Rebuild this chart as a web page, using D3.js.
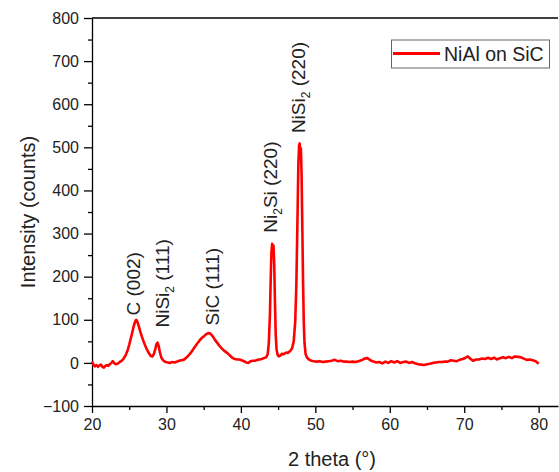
<!DOCTYPE html>
<html>
<head>
<meta charset="utf-8">
<script src="https://cdn.jsdelivr.net/npm/d3@7"></script>
<style>
  body { margin: 0; background: #fff; }
  svg { font-family: Arial, "Liberation Sans", sans-serif; }
  .axis path, .axis line { stroke: #000; stroke-width: 1.3; }
  .axis text { font-size: 16px; fill: #222; font-family: Arial, "Liberation Sans", sans-serif; }
</style>
</head>
<body>
<svg id="vis-svg" width="559" height="472"></svg>
<script>

// Data
var twoTheta = [20.0,20.2,20.4,20.6,20.8,21.0,21.2,21.4,21.6,21.8,22.0,22.2,22.4,22.6,22.8,23.0,23.2,23.4,23.6,23.8,
  24.0,24.2,24.4,24.6,24.8,25.0,25.2,25.4,25.6,25.8,25.95,26.1,26.3,26.5,26.7,26.9,27.1,27.3,27.5,27.7,27.9,
  28.1,28.3,28.5,28.65,28.8,28.95,29.1,29.3,29.5,29.7,29.9,30.2,30.5,30.8,31.1,31.4,31.7,32.0,32.3,32.6,32.9,
  33.2,33.5,33.8,34.1,34.4,34.7,35.0,35.3,35.6,35.9,36.2,36.5,36.8,37.1,37.4,37.7,38.0,38.3,38.6,38.9,39.2,
  39.5,39.8,40.1,40.4,40.7,41.0,41.3,41.6,41.9,42.2,42.5,42.8,43.1,43.4,43.6,43.75,43.9,44.0,44.1,44.2,44.3,
  44.38,44.48,44.58,44.68,44.8,44.95,45.1,45.3,45.5,45.7,45.9,46.1,46.3,46.5,46.7,46.9,47.1,47.3,47.45,47.6,
  47.72,47.82,47.9,47.98,48.06,48.15,48.25,48.35,48.45,48.55,48.7,48.9,49.2,49.5,49.8,50.2,50.6,51.0,51.4,
  51.8,52.2,52.6,53.0,53.4,53.8,54.2,54.6,55.0,55.4,55.8,56.2,56.6,57.0,57.4,57.8,58.2,58.6,59.0,59.4,59.8,
  60.2,60.6,61.0,61.4,61.8,62.2,62.6,63.0,63.4,63.8,64.2,64.6,65.0,65.4,65.8,66.2,66.6,67.0,67.4,67.8,68.2,
  68.6,69.0,69.4,69.8,70.2,70.5,70.8,71.2,71.6,72.0,72.4,72.8,73.2,73.6,74.0,74.4,74.8,75.2,75.6,76.0,76.4,
  76.8,77.2,77.6,78.0,78.4,78.8,79.2,79.6,80.0];

var intensity = [3,-4,-8,-5,-9,-6,-4,-9,-11,-7,-5,-7,-3,0,4,-1,-3,-2,0,3,
  5,9,14,21,30,42,56,70,85,96,100,95,84,72,61,51,42,34,27,21,16,
  15,20,32,43,47,40,26,13,7,4,2,1,0,2,1,3,5,6,7,11,16,
  22,29,37,44,51,57,61,66,69,68,62,54,47,40,34,29,25,21,16,11,9,
  8,8,6,4,1,0,4,5,5,7,8,9,11,13,20,45,110,190,255,276,262,
  272,230,140,65,30,18,15,17,21,20,22,24,23,26,29,35,50,95,180,330,
  460,505,509,485,498,440,320,190,95,45,20,12,7,5,4,3,4,2,3,
  4,5,7,4,5,3,3,2,3,2,4,6,10,11,6,3,1,2,-1,3,0,
  4,1,4,0,2,3,0,2,-1,-3,-4,-5,-3,-2,0,1,2,2,3,3,6,
  5,4,7,9,12,15,10,5,8,8,10,9,12,9,12,8,11,13,11,14,11,
  15,14,13,10,7,8,6,4,-2];

// Peak labels ('|' marks the subscript), 2theta of label, intensity where label starts
var peakNames = ['C (002)', 'NiSi|2| (111)', 'SiC (111)', 'Ni|2|Si (220)', 'NiSi|2| (220)'];
var peakPos = [26.4, 30.3, 37.0, 44.8, 48.6];
var peakBase = [110, 82, 87, 302, 533];

var xTicks = [20, 30, 40, 50, 60, 70, 80];
var yTicks = [-100, 0, 100, 200, 300, 400, 500, 600, 700, 800];
var seriesName = 'NiAl on SiC';

function drawChart() {
var data = twoTheta.map(function(t, i) { return {x: t, y: intensity[i]}; });

var svg = d3.select('#vis-svg');
var plotLeft = 92, plotRight = 558, plotTop = 18, plotBottom = 406;

var xScale = d3.scaleLinear().domain([20, 82.6]).range([plotLeft, plotRight]);
var yScale = d3.scaleLinear().domain([-100, 800]).range([plotBottom, plotTop]);

// minor ticks
svg.append('g')
  .attr('class', 'axis')
  .attr('transform', 'translate(0,' + plotBottom + ')')
  .call(d3.axisBottom(xScale).tickValues(d3.range(25, 81, 10)).tickSize(4).tickFormat(''))
  .select('.domain').remove();
svg.append('g')
  .attr('class', 'axis')
  .attr('transform', 'translate(' + plotLeft + ',0)')
  .call(d3.axisLeft(yScale).tickValues(d3.range(-50, 800, 100)).tickSize(4).tickFormat(''))
  .select('.domain').remove();

// X axis
svg.append('g')
  .attr('class', 'axis')
  .attr('transform', 'translate(0,' + plotBottom + ')')
  .call(d3.axisBottom(xScale).tickValues(xTicks).tickSize(7).tickPadding(6).tickSizeOuter(0));

// Y axis
svg.append('g')
  .attr('class', 'axis')
  .attr('transform', 'translate(' + plotLeft + ',0)')
  .call(d3.axisLeft(yScale).tickValues(yTicks).tickSize(8).tickPadding(5).tickSizeOuter(0)
    .tickFormat(function(d) { return d < 0 ? '\u2212' + Math.abs(d) : d; }));

// top border
svg.append('line')
  .attr('x1', plotLeft).attr('x2', plotRight)
  .attr('y1', plotTop).attr('y2', plotTop)
  .attr('stroke', '#000').attr('stroke-width', 1.3);

// Axis titles
svg.append('text')
  .attr('x', (plotLeft + plotRight) / 2 + 7)
  .attr('y', 466)
  .attr('text-anchor', 'middle')
  .style('font-size', '20px')
  .attr('fill', '#222')
  .text('2 theta (\u00b0)');

svg.append('text')
  .attr('transform', 'translate(35,' + ((plotTop + plotBottom) / 2) + ') rotate(-90)')
  .attr('text-anchor', 'middle')
  .style('font-size', '20px')
  .attr('fill', '#222')
  .text('Intensity (counts)');

// Line
var line = d3.line()
  .x(function(d) { return xScale(d.x); })
  .y(function(d) { return yScale(d.y); });

svg.append('path')
  .attr('d', line(data))
  .attr('fill', 'none')
  .attr('stroke', '#ff0000')
  .attr('stroke-width', 2.6)
  .attr('stroke-linejoin', 'round');

// Peak labels
peakNames.forEach(function(name, i) {
  var parts = name.split('|');
  var t = svg.append('text')
    .attr('transform', 'translate(' + xScale(peakPos[i]) + ',' + yScale(peakBase[i]) + ') rotate(-90)')
    .style('font-size', '19px')
    .attr('fill', '#222');
  t.append('tspan').text(parts[0]);
  if (parts.length > 1) {
    t.append('tspan').attr('dy', 5).style('font-size', '12px').text(parts[1]);
    t.append('tspan').attr('dy', -5).text(parts[2]);
  }
});

// Legend
var legend = svg.append('g');
legend.append('rect')
  .attr('x', 391.5).attr('y', 40)
  .attr('width', 158).attr('height', 28)
  .attr('fill', '#fff')
  .attr('stroke', '#666').attr('stroke-width', 1);
legend.append('line')
  .attr('x1', 393).attr('x2', 440)
  .attr('y1', 53.5).attr('y2', 53.5)
  .attr('stroke', '#ff0000').attr('stroke-width', 3);
legend.append('text')
  .attr('x', 444).attr('y', 61)
  .style('font-size', '19.5px')
  .attr('fill', '#222')
  .text(seriesName);
}

drawChart();

</script>
</body>
</html>
